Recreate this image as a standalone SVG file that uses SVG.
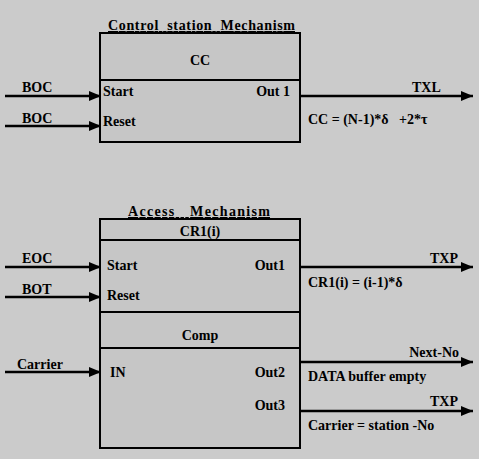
<svg xmlns="http://www.w3.org/2000/svg" width="479" height="459" viewBox="0 0 479 459">
<defs>
<marker id="ah" viewBox="0 0 12 10" refX="12" refY="5" markerWidth="12" markerHeight="10" markerUnits="userSpaceOnUse" orient="auto">
<path d="M0,0 L12,5 L0,10 Z" fill="#000"/>
</marker>
<style>
text{font-family:"Liberation Serif","Times New Roman",serif;font-weight:bold;font-size:14px;fill:#000;white-space:pre}
.c{text-anchor:middle}
.r{text-anchor:end}
.box{fill:#c6c6c6;stroke:#000;stroke-width:2}
.div{stroke:#000;stroke-width:2}
.arr{stroke:#000;stroke-width:2.5;fill:none;marker-end:url(#ah)}
</style>
</defs>
<rect x="0" y="0" width="479" height="459" fill="#cbcbcb"/>
<g id="control-station">
<rect class="box" x="100" y="33" width="200" height="109"/>
<line class="div" x1="100" y1="80" x2="300" y2="80"/>
<text x="108" y="30" textLength="187" lengthAdjust="spacing" text-decoration="underline">Control  station  Mechanism</text>
<text class="c" x="200" y="65">CC</text>
<text x="103" y="96">Start</text>
<text x="103" y="126">Reset</text>
<text class="r" x="290" y="96">Out 1</text>
</g>
<g id="access">
<rect class="box" x="100" y="219" width="200" height="229"/>
<line class="div" x1="100" y1="240" x2="300" y2="240"/>
<line class="div" x1="100" y1="312" x2="300" y2="312"/>
<line class="div" x1="100" y1="348" x2="300" y2="348"/>
<text x="128" y="216" textLength="142" lengthAdjust="spacing" text-decoration="underline">Access   Mechanism</text>
<text class="c" x="200" y="236">CR1(i)</text>
<text x="107" y="270">Start</text>
<text x="107" y="300">Reset</text>
<text class="r" x="285" y="270">Out1</text>
<text class="c" x="200" y="340">Comp</text>
<text x="110" y="377">IN</text>
<text class="r" x="285" y="377">Out2</text>
<text class="r" x="285" y="410">Out3</text>
</g>
<g id="connectors">
<line class="arr" x1="5" y1="96" x2="101" y2="96"/>
<line class="arr" x1="5" y1="126" x2="101" y2="126"/>
<line class="arr" x1="300" y1="96" x2="473" y2="96"/>
<line class="arr" x1="5" y1="267" x2="101" y2="267"/>
<line class="arr" x1="5" y1="297" x2="101" y2="297"/>
<line class="arr" x1="300" y1="267" x2="473" y2="267"/>
<line class="arr" x1="5" y1="372" x2="101" y2="372"/>
<line class="arr" x1="300" y1="362" x2="473" y2="362"/>
<line class="arr" x1="300" y1="411" x2="473" y2="411"/>
<text x="22" y="92">BOC</text>
<text x="22" y="123">BOC</text>
<text x="412" y="92">TXL</text>
<text x="308" y="124">CC = (N-1)*δ   +2*τ</text>
<text x="22" y="263">EOC</text>
<text x="22" y="294">BOT</text>
<text x="430" y="263">TXP</text>
<text x="308" y="287">CR1(i) = (i-1)*δ</text>
<text x="17" y="369">Carrier</text>
<text class="r" x="459" y="357">Next-No</text>
<text x="308" y="381">DATA buffer empty</text>
<text x="430" y="406">TXP</text>
<text x="308" y="430">Carrier = station -No</text>
</g>
</svg>
